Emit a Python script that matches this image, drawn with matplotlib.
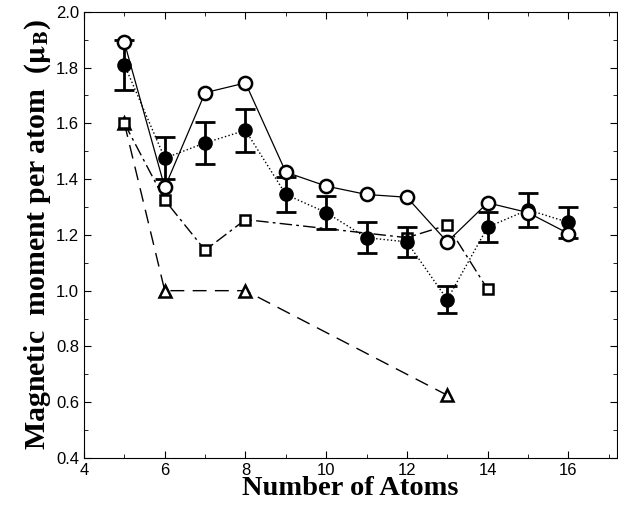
import numpy as np
import matplotlib.pyplot as plt
from matplotlib.ticker import MultipleLocator

# Data
n_open = [5, 6, 7, 8, 9, 10, 11, 12, 13, 14, 15, 16]
mu_open = [1.89, 1.37, 1.71, 1.745, 1.425, 1.375, 1.345, 1.335, 1.175, 1.315, 1.28, 1.205]

n_exp = [5, 6, 7, 8, 9, 10, 11, 12, 13, 14, 15, 16]
mu_exp = [1.81, 1.475, 1.53, 1.575, 1.345, 1.28, 1.19, 1.175, 0.968, 1.228, 1.29, 1.245]
mu_err = [0.09, 0.076, 0.075, 0.076, 0.062, 0.06, 0.055, 0.055, 0.047, 0.055, 0.06, 0.055]

n_sq = [5, 6, 7, 8, 12, 13, 14]
mu_sq = [1.60, 1.325, 1.145, 1.255, 1.19, 1.235, 1.005]

n_tri = [5, 6, 8, 13]
mu_tri = [1.60, 1.0, 1.0, 0.625]

plt.rcParams['font.family'] = ['Liberation Sans', 'DejaVu Sans']
plt.rcParams['mathtext.fontset'] = 'stix'

fig = plt.figure(figsize=(6.18, 5.14), dpi=100)
ax = fig.add_axes([0.136, 0.109, 0.862, 0.868])

ax.plot(n_tri, mu_tri, color='black', lw=1.0, ls=(0, (10, 6)),
        marker='^', ms=8.5, mfc='white', mec='black', mew=1.8, zorder=3)
ax.plot(n_sq, mu_sq, color='black', lw=1.0, ls=(0, (9, 3, 2, 3)),
        marker='s', ms=7, mfc='white', mec='black', mew=1.8, zorder=3)
ax.errorbar(n_exp, mu_exp, yerr=mu_err, color='black', lw=1.0, ls=':',
            marker='o', ms=9.5, mfc='black', mec='black',
            ecolor='black', elinewidth=2.0, capsize=7, capthick=2.0, zorder=4)
ax.plot(n_open, mu_open, color='black', lw=0.9, ls='-',
        marker='o', ms=9.5, mfc='white', mec='black', mew=1.8, zorder=5)

ax.set_xlim(4, 17.2)
ax.set_ylim(0.4, 2.0)
ax.xaxis.set_major_locator(MultipleLocator(2))
ax.xaxis.set_minor_locator(MultipleLocator(1))
ax.yaxis.set_major_locator(MultipleLocator(0.2))
ax.yaxis.set_minor_locator(MultipleLocator(0.1))
ax.yaxis.set_major_formatter(plt.FormatStrFormatter('%.1f'))
ax.tick_params(which='both', direction='in', top=True, right=True, labelsize=12)
ax.tick_params(which='major', length=5)
ax.tick_params(which='minor', length=3)

serif = ['Liberation Serif', 'DejaVu Serif']
ax.set_xlabel('Number of Atoms', family=serif,
              fontsize=20.5, fontweight='bold', labelpad=-1)
ax.set_ylabel(r'Magnetic  moment per atom  ($\mathbf{\mu}_{\mathbf{B}}$)', family=serif,
              fontsize=21.5, fontweight='bold', labelpad=2)

fig.savefig('out.png', dpi=100)
